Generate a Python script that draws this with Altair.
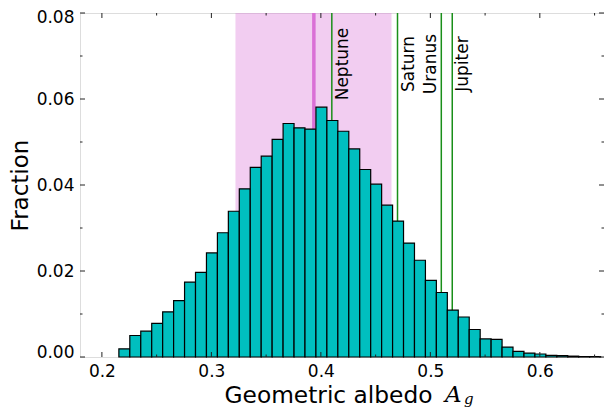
import altair as alt
import pandas as pd

# ---- data ----
BIN_START = 0.2155
BIN_WIDTH = 0.01
fraction = [0.0019, 0.0050, 0.0060, 0.0078, 0.0105, 0.0131, 0.0174, 0.0197,
            0.0242, 0.0289, 0.0339, 0.0391, 0.0441, 0.0467, 0.0506, 0.0543,
            0.0533, 0.0530, 0.0581, 0.0550, 0.0525, 0.0484, 0.0436, 0.0402,
            0.0353, 0.0316, 0.0265, 0.0225, 0.0178, 0.0150, 0.0109, 0.0093,
            0.0064, 0.0042, 0.0041, 0.0023, 0.0013, 0.0009, 0.0007, 0.0004,
            0.0003, 0.0002, 0.0001, 0.0001]

planets = ["Neptune", "Saturn", "Uranus", "Jupiter"]
planet_albedo = [0.41, 0.47, 0.51, 0.52]
label_left = [False, False, True, False]

median_albedo = 0.3936
band_low = 0.322
band_high = 0.4645

x_ticks = [0.2, 0.3, 0.4, 0.5, 0.6]
x_minor = [0.25, 0.35, 0.45, 0.55, 0.65]
y_ticks = [0.0, 0.02, 0.04, 0.06, 0.08]
y_minor = [0.01, 0.03, 0.05, 0.07]

X_DOMAIN = [0.18, 0.6586]
Y_DOMAIN = [0.0, 0.08]

W, H = 524, 344
FONT = "DejaVu Sans"

# ---- tables ----
hist = pd.DataFrame({
    "lo": [BIN_START + i * BIN_WIDTH for i in range(len(fraction))],
    "hi": [BIN_START + (i + 1) * BIN_WIDTH for i in range(len(fraction))],
    "frac": fraction,
})
pl = pd.DataFrame({"name": planets, "albedo": planet_albedo, "left": label_left})
band = pd.DataFrame({"lo": [band_low], "hi": [band_high]})
med = pd.DataFrame({"x": [median_albedo]})

xs = alt.Scale(domain=X_DOMAIN, nice=False, zero=False)
ys = alt.Scale(domain=Y_DOMAIN, nice=False, zero=False)

x_axis = alt.Axis(values=x_ticks, format=".1f", ticks=False, domain=False, grid=False,
                  labelFontSize=17, labelFont=FONT, labelColor="black", labelPadding=6,
                  title="Geometric albedo", titleFont=FONT, titleFontSize=23.3,
                  titleFontWeight="normal", titleColor="black", titleAlign="left",
                  titleAnchor="start", titleBaseline="alphabetic", titleX=144, titleY=45)
y_axis = alt.Axis(values=y_ticks, format=".2f", ticks=False, domain=False, grid=False,
                  labelFontSize=17, labelFont=FONT, labelColor="black", labelPadding=6,
                  labelFlush=True, labelFlushOffset=4,
                  title="Fraction", titleFont=FONT, titleFontSize=23,
                  titleFontWeight="normal", titleColor="black", titlePadding=4)

shade = alt.Chart(band).mark_rect(color="#DA70D6", opacity=0.35).encode(
    x=alt.X("lo:Q", scale=xs, axis=x_axis),
    x2="hi:Q",
    y=alt.value(0),
    y2=alt.value(H),
)

med_line = alt.Chart(med).mark_rule(color="#DA70D6", strokeWidth=3.5).encode(
    x=alt.X("x:Q", scale=xs), y=alt.value(0), y2=alt.value(H)
)

planet_lines = alt.Chart(pl).mark_rule(color="#1a8f1a", strokeWidth=1.5).encode(
    x=alt.X("albedo:Q", scale=xs), y=alt.value(0), y2=alt.value(H)
)

bars = alt.Chart(hist).mark_rect(color="#00BFBF", stroke="black", strokeWidth=1.2).encode(
    x=alt.X("lo:Q", scale=xs),
    x2="hi:Q",
    y=alt.Y("frac:Q", scale=ys, axis=y_axis),
    y2=alt.datum(0),
)

labels_right = alt.Chart(pl).transform_filter("!datum.left").mark_text(
    angle=270, align="center", baseline="top", dy=3, fontSize=17, font=FONT, color="black"
).encode(x=alt.X("albedo:Q", scale=xs), y=alt.value(51), text="name:N")

labels_left = alt.Chart(pl).transform_filter("datum.left").mark_text(
    angle=270, align="center", baseline="alphabetic", dy=-5, fontSize=17, font=FONT, color="black"
).encode(x=alt.X("albedo:Q", scale=xs), y=alt.value(51), text="name:N")

# math-style symbol A_g after the axis title
sym_A = alt.Chart(pd.DataFrame({"t": ["A"]})).mark_text(
    font="DejaVu Serif", fontStyle="italic", fontSize=23, align="left",
    baseline="alphabetic", color="black"
).encode(text="t:N", x=alt.value(365), y=alt.value(389))
sym_g = alt.Chart(pd.DataFrame({"t": ["g"]})).mark_text(
    font="DejaVu Serif", fontStyle="italic", fontSize=15, align="left",
    baseline="alphabetic", color="black"
).encode(text="t:N", x=alt.value(384), y=alt.value(391))

# inward ticks on all four sides
TC = "#222222"
def xticks(vals, length):
    d = pd.DataFrame({"v": vals})
    bottom = alt.Chart(d).mark_rule(color=TC, strokeWidth=1).encode(
        x=alt.X("v:Q", scale=xs), y=alt.value(H), y2=alt.value(H - length))
    top = alt.Chart(d).mark_rule(color=TC, strokeWidth=1).encode(
        x=alt.X("v:Q", scale=xs), y=alt.value(0), y2=alt.value(length))
    return [bottom, top]

def yticks(vals, length):
    d = pd.DataFrame({"v": vals})
    left = alt.Chart(d).mark_rule(color=TC, strokeWidth=1).encode(
        y=alt.Y("v:Q", scale=ys), x=alt.value(0), x2=alt.value(length))
    right = alt.Chart(d).mark_rule(color=TC, strokeWidth=1).encode(
        y=alt.Y("v:Q", scale=ys), x=alt.value(W), x2=alt.value(W - length))
    return [left, right]

tick_layers = xticks(x_ticks, 5) + xticks(x_minor, 2.5) + yticks(y_ticks, 5) + yticks(y_minor, 2.5)

chart = alt.layer(
    shade, med_line, planet_lines, bars, labels_right, labels_left, sym_A, sym_g, *tick_layers
).properties(
    width=W, height=H,
    autosize=alt.AutoSizeParams(type="none"),
    padding={"left": 72, "top": 5, "right": 0, "bottom": 51},
).configure_view(stroke="#222222", strokeWidth=1).configure(background="white")

chart.save("out.html", embed_options={"renderer": "svg", "actions": False})
